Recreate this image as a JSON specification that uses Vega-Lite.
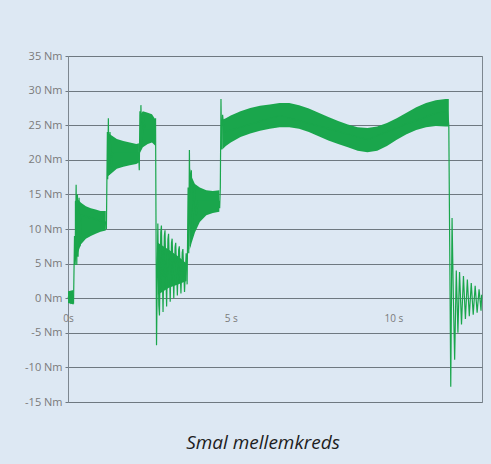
{
  "$schema": "https://vega.github.io/schema/vega-lite/v6.json",
  "width": 414,
  "height": 346,
  "autosize": {"type": "none"},
  "padding": {"left": 68, "top": 56, "right": 9, "bottom": 62},
  "background": "#dde8f3",
  "config": {"view": {"stroke": "#7d8790", "strokeWidth": 1}, "font": "Open Sans"},
  "title": {"text": "Smal mellemkreds", "orient": "bottom", "anchor": "middle", "fontSize": 19, "fontStyle": "italic", "fontWeight": "normal", "color": "#1e1e1e", "font": "Open Sans", "offset": 27, "dx": -12},
  "datasets": {
    "band": [
      {"seg": 1, "t": 0, "lo": -0.7, "hi": 1.0},
      {"seg": 1, "t": 0.17, "lo": -0.9, "hi": 1.2},
      {"seg": 2, "t": 0.21, "lo": 5.0, "hi": 14.0},
      {"seg": 2, "t": 0.30, "lo": 6.5, "hi": 14.3},
      {"seg": 2, "t": 0.40, "lo": 7.8, "hi": 13.8},
      {"seg": 2, "t": 0.55, "lo": 8.6, "hi": 13.3},
      {"seg": 2, "t": 0.70, "lo": 9.0, "hi": 13.0},
      {"seg": 2, "t": 0.85, "lo": 9.3, "hi": 12.8},
      {"seg": 2, "t": 1.00, "lo": 9.6, "hi": 12.6},
      {"seg": 2, "t": 1.16, "lo": 9.8, "hi": 12.6},
      {"seg": 3, "t": 1.20, "lo": 17.5, "hi": 24.0},
      {"seg": 3, "t": 1.32, "lo": 18.0, "hi": 23.6},
      {"seg": 3, "t": 1.50, "lo": 18.7, "hi": 23.0},
      {"seg": 3, "t": 1.70, "lo": 19.0, "hi": 22.7},
      {"seg": 3, "t": 1.90, "lo": 19.2, "hi": 22.5},
      {"seg": 3, "t": 2.10, "lo": 19.4, "hi": 22.3},
      {"seg": 3, "t": 2.18, "lo": 19.6, "hi": 22.4},
      {"seg": 4, "t": 2.21, "lo": 21.0, "hi": 26.5},
      {"seg": 4, "t": 2.30, "lo": 21.8, "hi": 27.0},
      {"seg": 4, "t": 2.45, "lo": 22.3, "hi": 26.8},
      {"seg": 4, "t": 2.58, "lo": 22.5, "hi": 26.6},
      {"seg": 4, "t": 2.69, "lo": 22.0, "hi": 25.8},
      {"seg": 5, "t": 2.76, "lo": 0.5, "hi": 8.0},
      {"seg": 5, "t": 3.10, "lo": 1.5, "hi": 7.0},
      {"seg": 5, "t": 3.40, "lo": 2.0, "hi": 6.0},
      {"seg": 5, "t": 3.64, "lo": 2.5, "hi": 5.0},
      {"seg": 6, "t": 3.74, "lo": 7.0, "hi": 19.0},
      {"seg": 6, "t": 3.80, "lo": 8.0, "hi": 17.5},
      {"seg": 6, "t": 3.90, "lo": 9.5, "hi": 16.5},
      {"seg": 6, "t": 4.05, "lo": 11.0, "hi": 16.0},
      {"seg": 6, "t": 4.25, "lo": 12.0, "hi": 15.6},
      {"seg": 6, "t": 4.45, "lo": 12.3, "hi": 15.5},
      {"seg": 6, "t": 4.65, "lo": 12.5, "hi": 15.6},
      {"seg": 7, "t": 4.74, "lo": 21.5, "hi": 25.8},
      {"seg": 7, "t": 4.85, "lo": 22.0, "hi": 26.0},
      {"seg": 7, "t": 5.0, "lo": 22.5, "hi": 26.4},
      {"seg": 7, "t": 5.3, "lo": 23.3, "hi": 27.0},
      {"seg": 7, "t": 5.6, "lo": 23.8, "hi": 27.5},
      {"seg": 7, "t": 5.9, "lo": 24.2, "hi": 27.8},
      {"seg": 7, "t": 6.2, "lo": 24.5, "hi": 28.0},
      {"seg": 7, "t": 6.5, "lo": 24.7, "hi": 28.2},
      {"seg": 7, "t": 6.8, "lo": 24.7, "hi": 28.2},
      {"seg": 7, "t": 7.1, "lo": 24.5, "hi": 27.9},
      {"seg": 7, "t": 7.4, "lo": 24.0, "hi": 27.4},
      {"seg": 7, "t": 7.7, "lo": 23.4, "hi": 26.8},
      {"seg": 7, "t": 8.0, "lo": 22.8, "hi": 26.2},
      {"seg": 7, "t": 8.3, "lo": 22.3, "hi": 25.6},
      {"seg": 7, "t": 8.6, "lo": 21.8, "hi": 25.1},
      {"seg": 7, "t": 8.9, "lo": 21.3, "hi": 24.7},
      {"seg": 7, "t": 9.2, "lo": 21.1, "hi": 24.6},
      {"seg": 7, "t": 9.5, "lo": 21.3, "hi": 24.8},
      {"seg": 7, "t": 9.8, "lo": 22.0, "hi": 25.3},
      {"seg": 7, "t": 10.1, "lo": 22.9, "hi": 26.0},
      {"seg": 7, "t": 10.4, "lo": 23.7, "hi": 26.8},
      {"seg": 7, "t": 10.7, "lo": 24.3, "hi": 27.6},
      {"seg": 7, "t": 11.0, "lo": 24.7, "hi": 28.2},
      {"seg": 7, "t": 11.3, "lo": 24.9, "hi": 28.6},
      {"seg": 7, "t": 11.6, "lo": 24.8, "hi": 28.8},
      {"seg": 7, "t": 11.70, "lo": 24.8, "hi": 28.8}
    ],
    "trace": [
      {"t": 0.00, "v": 0.2},
      {"t": 0.08, "v": -0.6},
      {"t": 0.12, "v": 1.0},
      {"t": 0.17, "v": -0.8},
      {"t": 0.20, "v": 9},
      {"t": 0.22, "v": 4.8},
      {"t": 0.25, "v": 16.4},
      {"t": 0.27, "v": 4.8},
      {"t": 0.29, "v": 15},
      {"t": 0.31, "v": 6},
      {"t": 0.34, "v": 14.5},
      {"t": 0.37, "v": 7.5},
      {"t": 0.40, "v": 12},
      {"t": 1.15, "v": 11},
      {"t": 1.18, "v": 10},
      {"t": 1.21, "v": 24},
      {"t": 1.22, "v": 17.2},
      {"t": 1.24, "v": 26.0},
      {"t": 1.26, "v": 17.8},
      {"t": 1.29, "v": 24},
      {"t": 1.33, "v": 19},
      {"t": 1.37, "v": 21},
      {"t": 2.17, "v": 21},
      {"t": 2.19, "v": 18.5},
      {"t": 2.21, "v": 27.0},
      {"t": 2.23, "v": 21.5},
      {"t": 2.24, "v": 27.9},
      {"t": 2.27, "v": 22.0},
      {"t": 2.32, "v": 26.5},
      {"t": 2.37, "v": 24.5},
      {"t": 2.67, "v": 24.5},
      {"t": 2.69, "v": 26.0},
      {"t": 2.72, "v": -6.8},
      {"t": 2.76, "v": 10.8},
      {"t": 2.79, "v": -1.0},
      {"t": 2.81, "v": -2.5},
      {"t": 2.85, "v": 9.5},
      {"t": 2.87, "v": 10.5},
      {"t": 2.92, "v": -2.0},
      {"t": 2.96, "v": 9.0},
      {"t": 2.98, "v": 9.8},
      {"t": 3.03, "v": -1.2},
      {"t": 3.07, "v": 8.5},
      {"t": 3.09, "v": 9.3},
      {"t": 3.14, "v": -0.5},
      {"t": 3.18, "v": 8.0},
      {"t": 3.20, "v": 8.6},
      {"t": 3.25, "v": 0.0},
      {"t": 3.29, "v": 7.4},
      {"t": 3.31, "v": 8.0},
      {"t": 3.36, "v": 0.4},
      {"t": 3.40, "v": 7.0},
      {"t": 3.42, "v": 7.5},
      {"t": 3.47, "v": 0.7},
      {"t": 3.51, "v": 6.6},
      {"t": 3.53, "v": 7.1},
      {"t": 3.58, "v": 0.9},
      {"t": 3.63, "v": 6.5},
      {"t": 3.66, "v": 2.0},
      {"t": 3.69, "v": 16},
      {"t": 3.71, "v": 6.5},
      {"t": 3.73, "v": 21.4},
      {"t": 3.76, "v": 7.5},
      {"t": 3.79, "v": 18.5},
      {"t": 3.83, "v": 9},
      {"t": 3.88, "v": 16.5},
      {"t": 3.94, "v": 12},
      {"t": 4.00, "v": 14},
      {"t": 4.63, "v": 14},
      {"t": 4.66, "v": 13},
      {"t": 4.68, "v": 16},
      {"t": 4.70, "v": 28.8},
      {"t": 4.72, "v": 21.5},
      {"t": 4.75, "v": 26.5},
      {"t": 4.80, "v": 24},
      {"t": 6.5, "v": 26.4},
      {"t": 8.0, "v": 24.5},
      {"t": 9.2, "v": 22.9},
      {"t": 10.4, "v": 25.2},
      {"t": 11.3, "v": 26.7},
      {"t": 11.66, "v": 27},
      {"t": 11.70, "v": 25},
      {"t": 11.76, "v": -12.8},
      {"t": 11.80, "v": 11.6},
      {"t": 11.84, "v": 0},
      {"t": 11.88, "v": -8.9},
      {"t": 11.93, "v": 4.0},
      {"t": 11.98, "v": -5.0},
      {"t": 12.03, "v": 3.8},
      {"t": 12.09, "v": -3.8},
      {"t": 12.15, "v": 3.2},
      {"t": 12.21, "v": -3.0},
      {"t": 12.27, "v": 2.7},
      {"t": 12.33, "v": -2.6},
      {"t": 12.39, "v": 2.2},
      {"t": 12.45, "v": -2.4},
      {"t": 12.51, "v": 1.8},
      {"t": 12.57, "v": -2.1},
      {"t": 12.63, "v": 1.3},
      {"t": 12.69, "v": -1.8},
      {"t": 12.71, "v": 0.5}
    ]
  },
  "layer": [
    {
      "data": {"name": "band"},
      "mark": {"type": "area", "color": "#1aa64c", "opacity": 1},
      "encoding": {
        "x": {
          "field": "t", "type": "quantitative",
          "scale": {"domain": [0, 12.72], "nice": false, "zero": false},
          "axis": {
            "values": [0, 5, 10], "tickCount": 3,
            "labelExpr": "datum.value == 0 ? '0s' : datum.value + ' s'",
            "title": null, "grid": false, "ticks": false, "domain": false,
            "offset": -104, "labelPadding": 15, "labelFlush": false, "labelOverlap": false,
            "labelColor": "#7a7a7a", "labelFontSize": 10, "labelFont": "Open Sans"
          }
        },
        "y": {
          "field": "lo", "type": "quantitative",
          "scale": {"domain": [-15, 35], "nice": false, "zero": false},
          "axis": {
            "values": [-15, -10, -5, 0, 5, 10, 15, 20, 25, 30, 35], "tickCount": 11,
            "labelExpr": "datum.value + ' Nm'", "labelOverlap": false,
            "title": null, "grid": true, "gridColor": "#6e7880", "gridWidth": 1.2,
            "tickColor": "#6e7880", "tickSize": 3, "domainColor": "#7d8790",
            "labelColor": "#7a7a7a", "labelFontSize": 11, "labelPadding": 3, "labelFont": "Open Sans"
          }
        },
        "y2": {"field": "hi"},
        "detail": {"field": "seg", "type": "nominal"}
      }
    },
    {
      "data": {"name": "trace"},
      "mark": {"type": "line", "color": "#1aa64c", "strokeWidth": 1.2},
      "encoding": {
        "x": {"field": "t", "type": "quantitative"},
        "y": {"field": "v", "type": "quantitative"}
      }
    }
  ]
}
